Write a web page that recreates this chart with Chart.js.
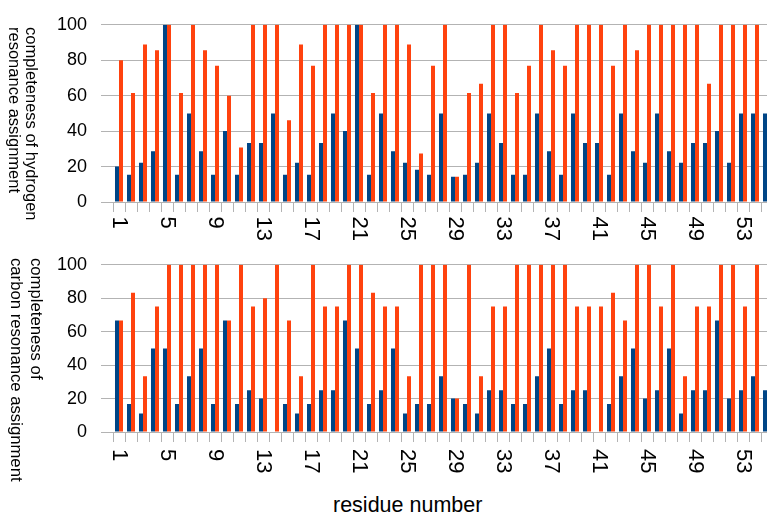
<!DOCTYPE html>
<html>
<head>
<meta charset="utf-8">
<script src="https://cdn.jsdelivr.net/npm/chart.js@4/dist/chart.umd.min.js"></script>
<style>
  html, body { margin: 0; padding: 0; background: #fff; overflow: hidden; width: 767px; height: 514px; }
  body { position: relative; font-family: "Liberation Sans", Arial, sans-serif; color: #000; }
  .panel { position: absolute; left: 0; width: 775px; }
  #topPanel { top: 0; height: 240px; }
  #bottomPanel { top: 240px; height: 250px; }
  .ytitle { position: absolute; writing-mode: vertical-rl; white-space: nowrap; }
  #hTitle { left: 6px; top: 27px; font-size: 16.5px; line-height: 17px; }
  #cTitle { left: 5px; top: 258px; font-size: 16.7px; line-height: 20.5px; }
  #xTitle { position: absolute; top: 493px; left: 333px; font-size: 21.5px; line-height: 24px; white-space: nowrap; }
</style>
</head>
<body>
<div class="panel" id="topPanel"><canvas id="hChart"></canvas></div>
<div class="panel" id="bottomPanel"><canvas id="cChart"></canvas></div>
<div class="ytitle" id="hTitle">completeness of hydrogen<br>resonance assignment</div>
<div class="ytitle" id="cTitle">completeness of<br>carbon resonance assignment</div>
<div id="xTitle">residue number</div>
<script>
var residues = ["1", "2", "3", "4", "5", "6", "7", "8", "9", "10",
  "11", "12", "13", "14", "15", "16", "17", "18", "19", "20",
  "21", "22", "23", "24", "25", "26", "27", "28", "29", "30",
  "31", "32", "33", "34", "35", "36", "37", "38", "39", "40",
  "41", "42", "43", "44", "45", "46", "47", "48", "49", "50",
  "51", "52", "53", "54", "55"];
var tickLabels = ["1", "5", "9", "13", "17", "21", "25", "29", "33", "37", "41", "45", "49", "53"];

var hydrogenBlue = [20, 15.4, 22.2, 28.6, 100, 15.4, 50, 28.6, 15.4, 40,
  15.4, 33.3, 33.3, 50, 15.4, 22.2, 15.4, 33.3, 50, 40,
  100, 15.4, 50, 28.6, 22.2, 18.2, 15.4, 50, 14.3, 15.4,
  22.2, 50, 33.3, 15.4, 15.4, 50, 28.6, 15.4, 50, 33.3,
  33.3, 15.4, 50, 28.6, 22.2, 50, 28.6, 22.2, 33.3, 33.3,
  40, 22.2, 50, 50, 50];
var hydrogenOrange = [80, 61.5, 88.9, 85.7, 100, 61.5, 100, 85.7, 76.9, 60,
  30.8, 100, 100, 100, 46.2, 88.9, 76.9, 100, 100, 100,
  100, 61.5, 100, 100, 88.9, 27.3, 76.9, 100, 14.3, 61.5,
  66.7, 100, 100, 61.5, 76.9, 100, 85.7, 76.9, 100, 100,
  100, 76.9, 100, 85.7, 100, 100, 100, 100, 100, 66.7,
  100, 100, 100, 100, 100];

var carbonBlue = [66.7, 16.7, 11.1, 50, 50, 16.7, 33.3, 50, 16.7, 66.7,
  16.7, 25, 20, 0, 16.7, 11.1, 16.7, 25, 25, 66.7,
  50, 16.7, 25, 50, 11.1, 16.7, 16.7, 33.3, 20, 16.7,
  11.1, 25, 25, 16.7, 16.7, 33.3, 50, 16.7, 25, 25,
  0, 16.7, 33.3, 50, 20, 25, 50, 11.1, 25, 25,
  66.7, 20, 25, 33.3, 25];
var carbonOrange = [66.7, 83.3, 33.3, 75, 100, 100, 100, 100, 100, 66.7,
  100, 75, 80, 100, 66.7, 33.3, 100, 75, 75, 100,
  100, 83.3, 75, 75, 33.3, 100, 100, 100, 20, 100,
  33.3, 75, 75, 100, 100, 100, 100, 100, 75, 75,
  75, 83.3, 66.7, 100, 100, 75, 100, 33.3, 75, 75,
  100, 100, 75, 100, 75];

Chart.defaults.font.family = '"Liberation Sans", Arial, sans-serif';
Chart.defaults.color = "#000";

// x labels read top to bottom, so draw them ourselves
var rotatedTicks = {
  id: "rotatedTicks",
  afterDraw: function (chart, args, opts) {
    var ctx = chart.ctx;
    var xs = chart.scales.x;
    ctx.save();
    ctx.font = '22px "Liberation Sans", Arial, sans-serif';
    ctx.fillStyle = "#000";
    ctx.textAlign = "left";
    ctx.textBaseline = "middle";
    tickLabels.forEach(function (lbl) {
      var x = xs.getPixelForValue(residues.indexOf(lbl));
      ctx.save();
      ctx.translate(x, chart.chartArea.bottom + opts.offset);
      ctx.rotate(Math.PI / 2);
      ctx.fillText(lbl, 0, 0);
      ctx.restore();
    });
    ctx.restore();
  },
};

function makeChart(id, blue, orange, xHeight, labelOffset) {
  return new Chart(document.getElementById(id), {
    type: "bar",
    data: {
      labels: residues,
      datasets: [
        {
          data: blue,
          backgroundColor: "#004586",
          borderWidth: 0,
          categoryPercentage: 0.667,
          barPercentage: 1,
        },
        {
          data: orange,
          backgroundColor: "#ff420e",
          borderWidth: 0,
          categoryPercentage: 0.667,
          barPercentage: 1,
        },
      ],
    },
    options: {
      responsive: true,
      maintainAspectRatio: false,
      animation: false,
      devicePixelRatio: 1,
      layout: { padding: { top: 23, right: 2, left: 0, bottom: 0 } },
      plugins: {
        legend: { display: false },
        tooltip: { enabled: false },
        rotatedTicks: { offset: labelOffset },
      },
      scales: {
        x: {
          grid: {
            offset: true,
            drawOnChartArea: false,
            drawTicks: true,
            tickLength: 10,
            color: "#b3b3b3",
          },
          border: { display: false },
          ticks: { display: false, autoSkip: false },
          afterFit: function (s) {
            s.height = xHeight;
          },
        },
        y: {
          min: 0,
          max: 100,
          ticks: { stepSize: 20, color: "#000", font: { size: 18 }, padding: 14 },
          grid: { color: "#b3b3b3", tickLength: 12 },
          border: { display: false },
          afterFit: function (s) {
            s.width = 113;
          },
        },
      },
    },
    plugins: [rotatedTicks],
  });
}

makeChart("hChart", hydrogenBlue, hydrogenOrange, 38, 14.5);
makeChart("cChart", carbonBlue, carbonOrange, 58, 17);
</script>
</body>
</html>
